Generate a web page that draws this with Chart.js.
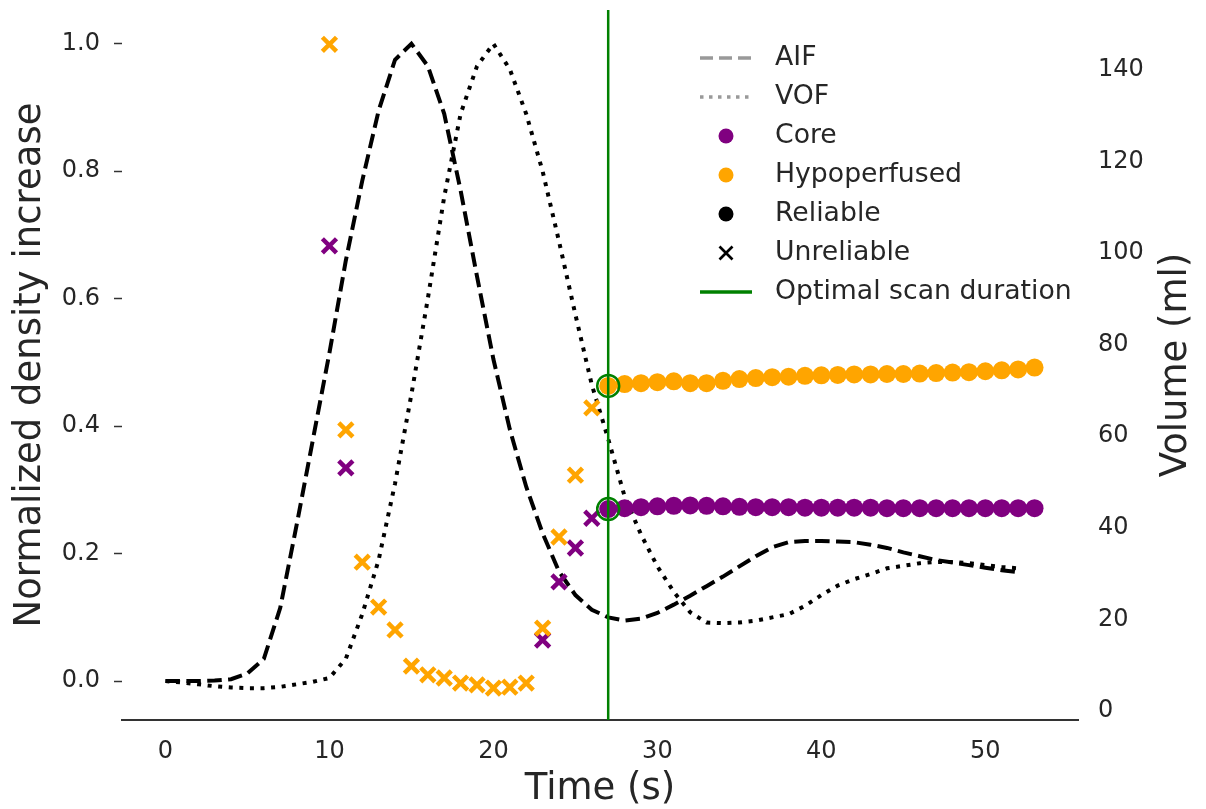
<!DOCTYPE html>
<html>
<head>
<meta charset="utf-8">
<script src="https://cdn.jsdelivr.net/npm/chart.js@4.4.1/dist/chart.umd.min.js"></script>
<style>
  html, body { margin: 0; padding: 0; background: #fff; }
  #wrap { width: 1206px; height: 809px; }
</style>
</head>
<body>
<div id="wrap"><canvas id="scanChart" width="1206" height="809"></canvas></div>
<script>
// sampling times of the curves (s)
const timeSec = [0, 1, 2, 3, 4, 5, 6, 7, 8, 9, 10, 11, 12, 13, 14, 15, 16, 17, 18, 19,
  20, 21, 22, 23, 24, 25, 26, 27, 28, 29, 30, 31, 32, 33, 34, 35, 36, 37, 38, 39,
  40, 41, 42, 43, 44, 45, 46, 47, 48, 49, 50, 51, 52];

// normalized density increase
const aif = [0, 0, 0, 0.001, 0.003, 0.012, 0.035, 0.115, 0.245, 0.38,
  0.515, 0.66, 0.785, 0.895, 0.975, 1.0, 0.965, 0.89, 0.77, 0.635,
  0.505, 0.395, 0.305, 0.232, 0.172, 0.135, 0.112, 0.100, 0.095, 0.098,
  0.107, 0.12, 0.134, 0.149, 0.164, 0.18, 0.196, 0.21, 0.218, 0.22,
  0.22, 0.219, 0.218, 0.214, 0.209, 0.202, 0.196, 0.19, 0.186, 0.182,
  0.178, 0.174, 0.171];
const vof = [0, -0.002, -0.005, -0.008, -0.010, -0.011, -0.011, -0.009, -0.005, -0.001,
  0.005, 0.035, 0.105, 0.19, 0.31, 0.45, 0.60, 0.76, 0.89, 0.965,
  1.0, 0.96, 0.89, 0.80, 0.69, 0.575, 0.465, 0.38, 0.29, 0.23,
  0.18, 0.14, 0.108, 0.092, 0.091, 0.092, 0.095, 0.10, 0.105, 0.118,
  0.135, 0.150, 0.160, 0.168, 0.177, 0.181, 0.185, 0.187, 0.187, 0.185,
  0.182, 0.179, 0.177];

// lesion volumes (ml) before the optimal scan duration
const hypoUnreliableTime = [10, 11, 12, 13, 14, 15, 16, 17, 18, 19, 20, 21, 22, 23, 24, 25, 26];
const hypoUnreliable = [145.6, 61.4, 32.5, 22.7, 17.7, 9.8, 7.9, 7.2, 6.1, 5.7, 5.0, 5.2, 6.1, 18.1, 38.0, 51.5, 66.2];
const coreUnreliableTime = [10, 11, 23, 24, 25, 26];
const coreUnreliable = [101.6, 53.1, 15.5, 28.2, 35.6, 42.1];

// lesion volumes (ml) from the optimal scan duration on
const reliableTime = [27, 28, 29, 30, 31, 32, 33, 34, 35, 36, 37, 38, 39, 40,
  41, 42, 43, 44, 45, 46, 47, 48, 49, 50, 51, 52, 53];
const hypoReliable = [71.0, 71.4, 71.6, 71.8, 72.0, 71.6, 71.6, 72.1, 72.5, 72.7, 72.9, 73.0, 73.2, 73.3,
  73.4, 73.5, 73.5, 73.6, 73.6, 73.7, 73.8, 73.9, 74.0, 74.2, 74.4, 74.6, 75.0];
const coreReliable = [44.1, 44.3, 44.5, 44.7, 44.8, 44.9, 44.8, 44.7, 44.6, 44.5, 44.5, 44.5, 44.4, 44.4,
  44.4, 44.4, 44.4, 44.3, 44.3, 44.3, 44.3, 44.3, 44.3, 44.3, 44.3, 44.3, 44.3];

const optimalTime = 27;

// axis ranges and ticks
const xRange = [-2.65, 55.65];
const densityRange = [-0.061, 1.053];
const volumeRange = [-1.97, 153.1];
const xTicks = [0, 10, 20, 30, 40, 50];
const densityTicks = [0, 0.2, 0.4, 0.6, 0.8, 1.0];
const volumeTicks = [0, 20, 40, 60, 80, 100, 120, 140];

const legendLabels = ["AIF", "VOF", "Core", "Hypoperfused", "Reliable", "Unreliable", "Optimal scan duration"];

const PURPLE = "#800080";
const ORANGE = "#FFA500";
const GREEN = "#008000";
const TEXT = "#262626";
const FONT = "DejaVu Sans";

const pts = (xs, ys) => xs.map((x, i) => ({ x: x, y: ys[i] }));
const at = (xs, ys, t) => ys[xs.indexOf(t)];

// legend and right axis title are drawn by hand
const extras = {
  id: "extras",
  afterDraw(chart) {
    const ctx = chart.ctx;
    ctx.save();

    // right axis title, reading bottom to top
    ctx.fillStyle = TEXT;
    ctx.font = "37px '" + FONT + "'";
    ctx.textAlign = "center";
    ctx.textBaseline = "middle";
    ctx.translate(1176, (chart.chartArea.top + chart.chartArea.bottom) / 2);
    ctx.rotate(-Math.PI / 2);
    ctx.fillText("Volume (ml)", 0, 0);
    ctx.setTransform(1, 0, 0, 1, 0, 0);

    const x0 = 700, x1 = 752, mx = 726, tx = 775, y0 = 58, dy = 39;
    ctx.font = "26.7px '" + FONT + "'";
    ctx.textAlign = "left";
    legendLabels.forEach((label, i) => {
      const y = y0 + i * dy;
      ctx.lineCap = "butt";
      if (i === 0 || i === 1 || i === 6) {
        ctx.beginPath();
        ctx.strokeStyle = i === 6 ? GREEN : "#999999";
        ctx.lineWidth = 3.5;
        ctx.setLineDash(i === 0 ? [13, 6] : i === 1 ? [3.5, 5.5] : []);
        ctx.moveTo(x0, y);
        ctx.lineTo(x1, y);
        ctx.stroke();
        ctx.setLineDash([]);
      } else if (i === 5) {
        ctx.beginPath();
        ctx.strokeStyle = "#000";
        ctx.lineWidth = 2.7;
        ctx.moveTo(mx - 6.5, y - 6.5);
        ctx.lineTo(mx + 6.5, y + 6.5);
        ctx.moveTo(mx + 6.5, y - 6.5);
        ctx.lineTo(mx - 6.5, y + 6.5);
        ctx.stroke();
      } else {
        ctx.beginPath();
        ctx.fillStyle = i === 2 ? PURPLE : i === 3 ? ORANGE : "#000";
        ctx.arc(mx, y, 7.5, 0, Math.PI * 2);
        ctx.fill();
      }
      ctx.fillStyle = TEXT;
      ctx.fillText(label, tx, y);
    });
    ctx.restore();
  }
};

function fixWidth(w) {
  return (scale) => {
    scale.width = w;
    scale.paddingTop = 0;
    scale.paddingBottom = 0;
  };
}

new Chart(document.getElementById("scanChart"), {
  type: "scatter",
  data: {
    datasets: [
      {
        label: "ring hypoperfused",
        data: [{ x: optimalTime, y: at(reliableTime, hypoReliable, optimalTime) }],
        yAxisID: "y2",
        pointStyle: "circle",
        pointRadius: 11,
        backgroundColor: "rgba(0,0,0,0)",
        borderColor: GREEN,
        borderWidth: 2.5,
        order: 0
      },
      {
        label: "ring core",
        data: [{ x: optimalTime, y: at(reliableTime, coreReliable, optimalTime) }],
        yAxisID: "y2",
        pointStyle: "circle",
        pointRadius: 11,
        backgroundColor: "rgba(0,0,0,0)",
        borderColor: GREEN,
        borderWidth: 2.5,
        order: 1
      },
      {
        label: "Optimal scan duration",
        data: [{ x: optimalTime, y: densityRange[0] }, { x: optimalTime, y: densityRange[1] }],
        yAxisID: "y",
        showLine: true,
        pointRadius: 0,
        borderColor: GREEN,
        borderWidth: 2.5,
        order: 2
      },
      {
        label: "Hypoperfused reliable",
        data: pts(reliableTime, hypoReliable),
        yAxisID: "y2",
        pointStyle: "circle",
        pointRadius: 9,
        backgroundColor: ORANGE,
        borderWidth: 0,
        order: 3
      },
      {
        label: "Core reliable",
        data: pts(reliableTime, coreReliable),
        yAxisID: "y2",
        pointStyle: "circle",
        pointRadius: 9,
        backgroundColor: PURPLE,
        borderWidth: 0,
        order: 4
      },
      {
        label: "Hypoperfused unreliable",
        data: pts(hypoUnreliableTime, hypoUnreliable),
        yAxisID: "y2",
        pointStyle: "crossRot",
        pointRadius: 10,
        borderColor: ORANGE,
        borderWidth: 4.5,
        order: 5
      },
      {
        label: "Core unreliable",
        data: pts(coreUnreliableTime, coreUnreliable),
        yAxisID: "y2",
        pointStyle: "crossRot",
        pointRadius: 10,
        borderColor: PURPLE,
        borderWidth: 4.5,
        order: 6
      },
      {
        label: "VOF",
        data: pts(timeSec, vof),
        yAxisID: "y",
        showLine: true,
        pointRadius: 0,
        borderColor: "#000",
        borderWidth: 4,
        borderDash: [4, 6.6],
        borderCapStyle: "butt",
        order: 7
      },
      {
        label: "AIF",
        data: pts(timeSec, aif),
        yAxisID: "y",
        showLine: true,
        pointRadius: 0,
        borderColor: "#000",
        borderWidth: 4,
        borderDash: [14.5, 6.4],
        borderCapStyle: "butt",
        order: 8
      }
    ]
  },
  options: {
    responsive: false,
    maintainAspectRatio: false,
    devicePixelRatio: 1,
    animation: false,
    events: [],
    layout: { autoPadding: false, padding: { top: 10, left: 0, right: 0, bottom: 0 } },
    plugins: {
      legend: { display: false },
      tooltip: { enabled: false }
    },
    scales: {
      x: {
        type: "linear",
        min: xRange[0],
        max: xRange[1],
        afterBuildTicks: (s) => { s.ticks = xTicks.map(v => ({ value: v })); },
        afterFit: (s) => { s.height = 89; s.paddingLeft = 0; s.paddingRight = 0; },
        grid: { display: false, drawTicks: false },
        border: { display: true, color: "#333333", width: 2 },
        ticks: {
          padding: 17,
          color: TEXT,
          font: { family: FONT, size: 24 },
          callback: (v) => String(v)
        },
        title: {
          display: true,
          text: "Time (s)",
          color: TEXT,
          font: { family: FONT, size: 37, lineHeight: 1 },
          padding: { top: 0, bottom: 1 }
        }
      },
      y: {
        type: "linear",
        position: "left",
        min: densityRange[0],
        max: densityRange[1],
        afterBuildTicks: (s) => { s.ticks = densityTicks.map(v => ({ value: v })); },
        afterFit: fixWidth(122),
        grid: { display: true, drawOnChartArea: false, drawTicks: true, tickLength: 8, tickColor: "#333333", tickWidth: 1.5 },
        border: { display: false },
        ticks: {
          padding: 14,
          color: TEXT,
          font: { family: FONT, size: 24 },
          callback: (v) => v.toFixed(1)
        },
        title: {
          display: true,
          text: "Normalized density increase",
          color: TEXT,
          font: { family: FONT, size: 37, lineHeight: 1 },
          padding: { top: 12, bottom: 0 }
        }
      },
      y2: {
        type: "linear",
        position: "right",
        min: volumeRange[0],
        max: volumeRange[1],
        afterBuildTicks: (s) => { s.ticks = volumeTicks.map(v => ({ value: v })); },
        afterFit: fixWidth(128),
        grid: { display: false, drawTicks: false },
        border: { display: false },
        ticks: {
          padding: 20,
          color: TEXT,
          font: { family: FONT, size: 24 },
          callback: (v) => String(v)
        }
      }
    }
  },
  plugins: [extras]
});
</script>
</body>
</html>
